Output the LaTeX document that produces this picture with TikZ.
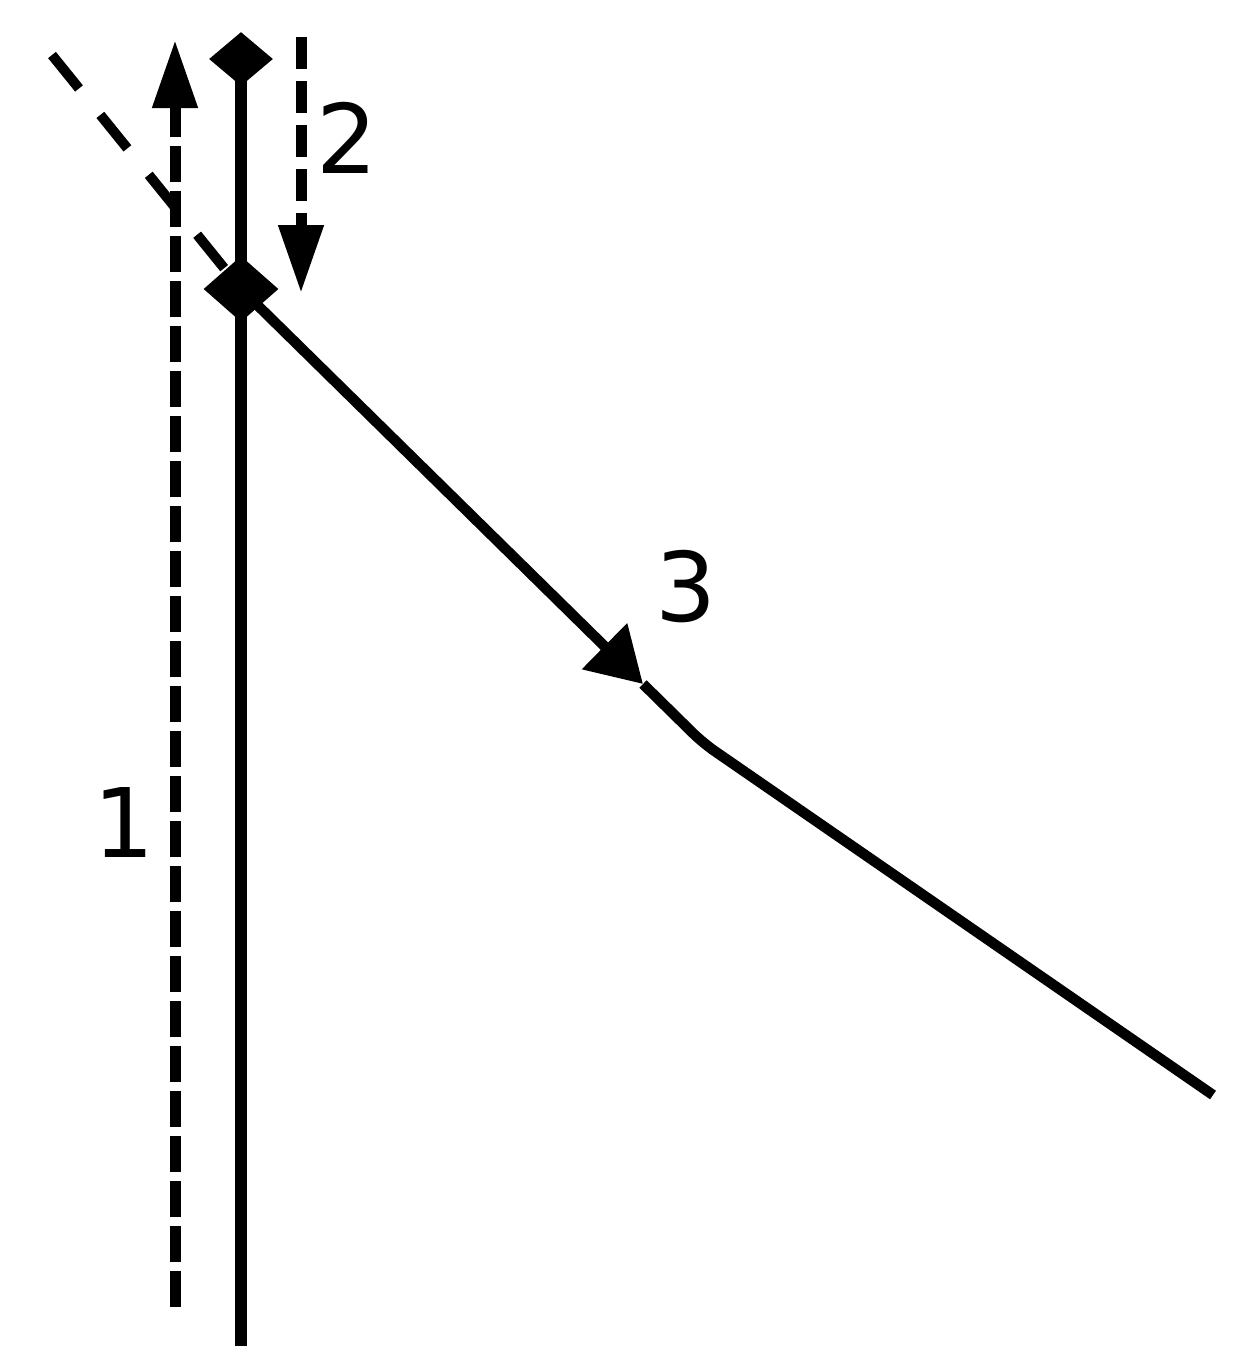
\documentclass[tikz,border=0pt]{standalone}
\usepackage{fontspec}
\setmainfont{DejaVu Sans}
\usetikzlibrary{arrows.meta,shapes.geometric}
\begin{document}
\begin{tikzpicture}[x=0.5pt,y=-0.5pt,
  dia/.style={diamond,fill=black,draw=none,inner sep=0pt},
  mainline/.style={line width=6pt},
  rayline/.style={line width=5.2pt},
  dashone/.style={line width=5.5pt,dash pattern=on 18pt off 4.5pt},
  dashtwo/.style={line width=5.5pt,dash pattern=on 16pt off 6pt},
  dashray/.style={line width=5pt,dash pattern=on 21.5pt off 17pt},
  vtip/.style={-{Triangle[length=34pt,width=21.5pt]}},
  rtip/.style={-{Triangle[length=27pt,width=31pt]}},
  lab/.style={inner sep=0pt,font=\fontsize{48}{58}\selectfont}
]
\useasboundingbox (0,0) rectangle (1244,1367);
% coordinates
\coordinate (bot) at (241,1346);
\coordinate (oneb) at (175,1307);
\coordinate (onet) at (175,40);
\coordinate (twot) at (301,37);
\coordinate (twob) at (301,293);
\coordinate (rstart) at (52,55);
\coordinate (rtipc) at (643,684);
\coordinate (rbend) at (703,743);
\coordinate (rend) at (1213,1095);
% diamonds
\node[dia,minimum width=32pt,minimum height=27pt] (top) at (241,59) {};
\node[dia,minimum width=37.5pt,minimum height=33pt] (mid) at (241,289) {};
% main vertical line
\draw[mainline] (bot) -- (top.center);
% dashed line 1 (upwards)
\draw[dashone,vtip] (oneb) -- (onet);
% dashed line 2 (downwards)
\draw[dashtwo,vtip] (twot) -- (twob);
% incoming dashed ray
\draw[dashray] (rstart) -- (mid.center);
% outgoing ray
\draw[rayline,rtip] (mid.center) -- (rtipc);
\draw[rayline,rounded corners=7pt] (rtipc) -- (rbend) -- (rend);
% labels
\node[lab] (l1) at (124,822) {1};
\node[lab] (l2) at (347,138) {2};
\node[lab] (l3) at (686,587) {3};
\end{tikzpicture}
\end{document}
